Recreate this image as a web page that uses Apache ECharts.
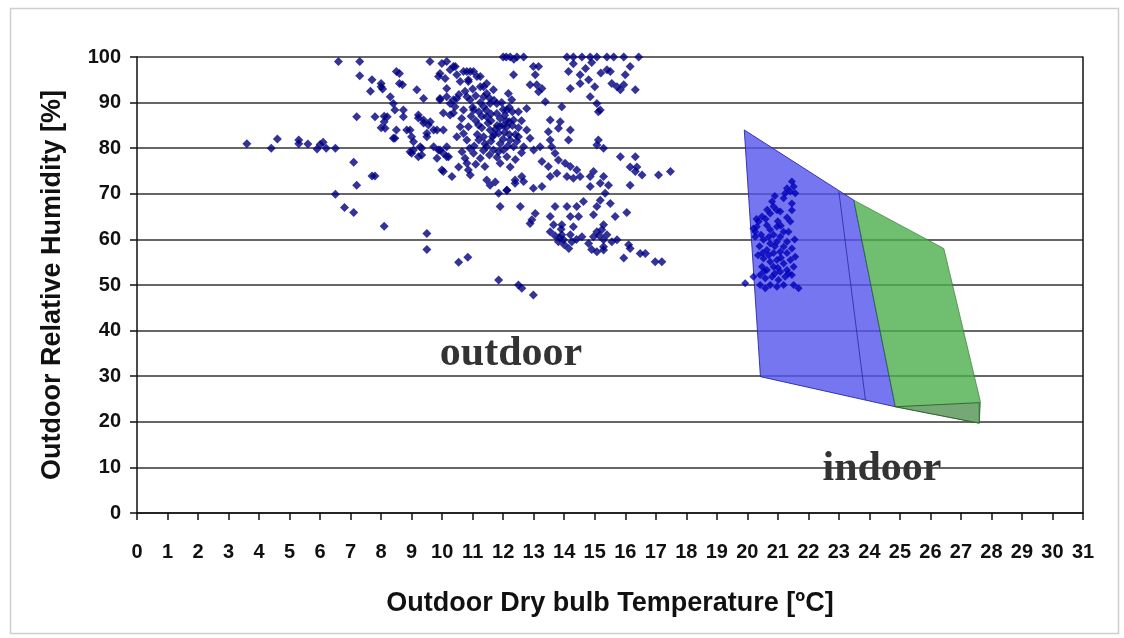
<!DOCTYPE html>
<html>
<head>
<meta charset="utf-8">
<script src="https://cdn.jsdelivr.net/npm/echarts@6/dist/echarts.min.js"></script>
<style>
html,body{margin:0;padding:0;background:#fff;}
#chart{width:1124px;height:638px;}
</style>
</head>
<body>
<div id="chart"></div>
<script>
// ---- data ----
const xTitle = 'Outdoor Dry bulb Temperature [ºC]';
const yTitle = 'Outdoor Relative Humidity [%]';
const labelOutdoor = 'outdoor';
const labelIndoor = 'indoor';

const outdoorPoints = [
[3.6,81],[4.4,80],[4.6,82],[5.3,81.8],[5.3,81],[5.6,80.9],[5.9,79.8],[6.0,80.8],[6.1,81.3],[6.2,80],[6.5,80],
[6.6,99],[7.3,99],[7.3,95.9],[7.1,76.9],[6.5,69.9],[6.8,67],[7.1,65.9],[7.2,71.9],[7.2,86.9],[7.7,95],[7.65,92.5],
[8.0,94.2],[8.05,93],[7.8,86.9],[7.7,73.9],[7.8,73.9],[8.1,62.9],[8.1,87],[8.0,84.5],
[9.6,99],[8.5,96.8],[8.6,96.4],[8.6,94.2],[8.7,93.9],[8.0,93.5],[8.3,91.3],[8.4,89.8],[8.45,88.4],[8.2,86.9],[8.1,85.8],
[8.13,84.4],[8.45,82.2],[8.4,82.2],[8.5,84],[8.73,86.9],[8.73,88.4],[8.84,84],[8.95,84],[9.0,82.5],[9.06,81.4],[9.06,79.6],
[9.0,78.9],[8.95,79.2],[9.22,78.1],[9.28,80.3],[9.33,78.5],[9.17,92.8],[9.39,90.9],[9.22,87.3],[9.22,86.6],[9.39,85.5],
[9.39,86.2],[9.55,85.1],[9.61,85.8],[9.72,84],[9.5,83.3],[9.5,82.5],[9.33,80],[9.72,80.3],[9.88,79.6],[10.04,78.9],
[10.21,78.1],[9.83,84],[9.99,98.6],[10.15,99],[10.26,97.2],[9.93,96.4],[10.1,95.3],[10.43,97.9],[9.88,95.7],[10.37,97.9],
[10.48,96.1],[10.7,96.8],[10.92,96.8],[10.86,95],[10.59,94.6],[11.14,95.7],[10.81,96.8],[11.03,96.8],[10.86,94.6],
[11.25,95.7],[10.15,93.1],[9.93,90.9],[10.26,89.8],[10.48,90.9],[10.04,87.7],[10.37,87.7],[10.7,88.4],[10.92,90.6],
[9.93,90.6],[10.15,91.3],[10.37,90.6],[10.42,89.1],[10.26,87.3],[10.59,84.7],[10.48,82.5],[10.04,84],[10.81,81.8],
[10.15,80.3],[9.93,79.6],[10.15,78.1],[9.83,77.8],[9.99,75.2],[10.32,73.8],[10.54,75.9],[10.75,77.8],[10.86,75.2],
[10.92,74.1],[10.04,74.9],[11.25,93.5],[11.46,94.2],[11.36,91.3],[11.68,92.8],[11.79,89.8],[11.36,93.5],[11.46,92],
[10.81,91.3],[11.03,88.4],[10.64,86.5],[10.86,84.7],[11.19,85.1],[11.36,89.1],[11.57,89.8],[11.46,86.9],[11.79,87.6],
[11.36,82.5],[11.46,80.3],[11.68,79.6],[11.57,84],[11.03,78.9],[11.25,77.8],[10.81,76.7],[11.85,83.3],[12.12,84.7],
[12.34,86.2],[12.23,81.8],[12.01,79.6],[12.12,78.1],[12.34,80.3],[11.9,76.7],[12.23,75.9],[11.46,73],[11.74,72.6],
[11.57,71.9],[11.85,70.1],[12.12,70.8],[12.39,72.3],[11.9,67.2],[11.85,51.1],[9.5,61.3],[9.5,57.8],[10.54,55],[10.84,56.1],
[11.1,86],[11.2,88],[11.3,84.5],[11.5,85.5],[11.6,87.5],[11.7,83],[11.8,85],[11.9,86.5],[12.0,88.5],[12.05,83.5],
[11.15,83],[11.4,81],[11.6,81.5],[11.9,81],[11.7,90.5],[11.95,90],[12.2,89],[11.05,80.5],[11.25,90],[10.95,87],
[11.55,78.5],[11.8,78],[12.4,83],[12.0,85],
[11.0,89],[11.1,91.5],[11.3,87],[11.45,88.3],[11.6,86],[11.75,84.2],[11.9,84.8],[12.05,87.2],[12.2,85.8],[11.2,81.8],
[11.35,79.5],[11.65,82.5],[11.85,79.2],[12.0,82],[12.15,80.5],[10.7,83.2],[10.9,80],[10.65,79.2],[11.1,76.5],[11.4,76],
[12.3,88],[12.5,82.5],[12.6,79],[12.4,77.5],[11.0,93],[11.55,91],[10.75,92.5],[10.55,91.8],
[12.0,100],[12.23,100],[12.45,100],[12.67,100],[12.1,100],[12.35,99.5],[14.09,100],[14.3,100],[14.58,100],[14.85,100],
[15.07,100],[12.34,96.1],[12.99,97.9],[13.16,97.9],[13.05,96.1],[12.88,93.9],[13.1,93.9],[13.27,93.1],[13.16,92.4],
[14.14,96.8],[14.2,93.1],[14.52,96.1],[14.52,94.2],[14.8,95],[14.85,91.3],[15.07,89.8],[15.12,88],[12.17,92],[12.28,90.6],
[13.38,90.2],[13.92,89.1],[12.5,88],[12.77,88.7],[12.12,88.4],[13.54,86.2],[13.87,85.8],[13.81,84.4],[14.2,84],[14.14,81.8],
[13.48,83.6],[13.54,81.8],[13.59,80.3],[13.7,78.9],[13.81,77.4],[13.21,80.3],[13.27,77.1],[13.48,76],[12.77,84],[12.88,82.2],
[12.67,80.3],[13.0,79.6],[14.03,76.7],[14.2,76],[14.41,75.2],[14.09,73.8],[14.3,73.4],[14.52,73.8],[14.85,73.8],[14.96,74.9],
[15.12,81.8],[15.07,80.7],[13.76,74.5],[13.54,73.8],[14.85,71.6],[15.18,72.3],[12.39,73],[12.61,73.8],[12.67,72.7],
[12.12,70.8],[12.99,71.2],[13.27,71.6],[12.56,67.2],[13.05,65.7],[12.94,64.3],[12.88,63.5],[13.7,67.2],[13.54,65],
[14.09,67.2],[14.41,67.2],[14.63,68.3],[13.65,63.2],[13.92,63.2],[14.2,65],[14.47,65],[14.3,62.8],[13.54,61.7],[13.92,61],
[14.2,61],[13.81,59.5],[13.98,59.9],[14.25,59.5],[14.58,60.6],[14.8,59.1],[15.07,67.2],[15.18,68.6],[14.96,65.4],
[15.07,61.7],[15.23,62.1],[14.96,60.6],[15.29,59.9],[15.07,57.3],[15.29,58.4],[12.5,50],[12.61,49.3],[12.99,47.8],
[12.1,86],[12.3,85],[12.5,84.5],[12.2,83],[12.45,81.5],[12.6,86],
[13.85,60.3],[14.0,58.8],[14.4,60],[14.15,58],[13.7,60.8],[15.15,60.8],[14.9,57.8],[13.9,62.2],
[14.3,98.5],[14.7,97.5],[14.9,98.8],[15.2,96.5],[15.0,93.5],
[15.4,100],[15.62,100],[15.95,100],[16.44,100],[16.16,97.9],[15.4,97.2],[15.51,96.8],[16.0,96.1],[15.56,94.2],[15.73,93.5],
[15.95,93.9],[15.84,92.8],[16.33,92.8],[15.18,88.4],[15.29,80],[15.84,78.1],[16.33,78.1],[16.16,75.9],[16.38,75.9],
[16.33,74.9],[16.55,74.1],[17.09,74.1],[17.48,74.9],[15.29,73.8],[15.45,71.9],[16.16,71.9],[15.34,70.1],[15.51,67.9],
[16.05,65.9],[15.67,65],[15.29,63.2],[15.4,61],[15.56,59.5],[15.73,59.9],[16.11,58.8],[16.16,58],[16.49,56.9],[16.66,56.9],
[15.95,55.9],[16.98,55.1],[17.2,55.1],[15.29,57.7]
];

const indoorPoints = [
[21.46,72.7],[21.52,71.6],[21.41,70.5],[21.3,71.2],[21.57,70.1],[21.24,70.1],[21.19,69],[21.46,67.9],[21.46,66.4],
[21.41,63.9],[21.35,61.7],[20.81,68.3],[20.86,67.2],[20.97,66.4],[20.75,65.7],[21.08,66.1],[20.48,65],[20.37,63.9],
[20.31,62.8],[20.26,61.7],[20.2,62.4],[20.64,63.1],[20.75,62.1],[20.97,62.8],[20.86,61],[21.08,60.6],[21.19,61.7],
[20.53,59.9],[20.75,59.1],[20.97,59.5],[21.19,58.4],[20.64,57.7],[20.86,57],[21.08,57.3],[21.3,57],[21.46,58],
[20.53,55.8],[20.75,55.1],[20.97,55.5],[21.19,54.7],[21.41,55.5],[21.57,56.2],[20.48,54],[20.64,53.3],[20.86,54],
[21.08,52.9],[21.3,53.3],[21.52,54],[20.42,52.2],[20.59,51.5],[20.81,51.8],[21.02,51.1],[21.24,51.8],[21.46,52.2],
[20.42,50],[20.59,49.3],[20.75,50],[20.97,49.6],[21.19,50],[19.93,50.4],[20.2,51.8],[21.52,50],[21.68,49.3],
[20.26,60.6],[20.4,58.5],[20.35,56.5],[20.6,64.5],[21.0,64],[21.3,64.8],[21.55,60],
[20.3,64.5],[20.45,61],[20.7,60.5],[20.9,58.5],[21.1,56],[20.7,56.5],[20.55,53],[20.9,52.5],[21.35,52.5],
[20.65,66.5],[20.9,69.5],[21.1,63],[21.3,59.5],[20.5,57],[21.0,53.8]
];

const bluePolygon = [[19.9,84],[23.49,68.6],[24.85,23.3],[20.43,29.9]];
const greenPolygon = [[23.49,68.6],[26.44,58],[27.64,24.4],[27.6,19.7],[24.85,23.3]];
const greyStrip = [[24.85,23.3],[27.6,24.2],[27.6,19.7]];
const dividerLine = [[23.0,70.5],[23.87,24.8]];

// ---- chart ----
const chart = echarts.init(document.getElementById('chart'));
const labelFont = {fontFamily:'Liberation Sans, Arial, sans-serif', fontWeight:'bold', fontSize:20, color:'#111'};

function polygonSeries(points, fill, stroke, z) {
  return {
    type:'custom', coordinateSystem:'cartesian2d', z:z, silent:true,
    data:[[points[0][0], points[0][1]]],
    renderItem:function(params, api){
      return {type:'polygon', shape:{points:points.map(p=>api.coord(p))},
        style:{fill:fill, stroke:stroke, lineWidth:1}};
    }
  };
}

const option = {
  backgroundColor:'#fff',
  animation:false,
  grid:{left:137, right:41, top:57, bottom:125},
  xAxis:{
    type:'value', min:0, max:31, interval:1,
    name:xTitle, nameLocation:'middle', nameGap:77,
    nameTextStyle:{fontFamily:'Liberation Sans, Arial, sans-serif', fontWeight:'bold', fontSize:27, color:'#111'},
    axisLine:{show:true, onZero:false, lineStyle:{color:'#111', width:1.5}},
    axisTick:{show:true, length:7, lineStyle:{color:'#111', width:1.5}},
    axisLabel:Object.assign({margin:29}, labelFont),
    splitLine:{show:false}
  },
  yAxis:[{
    type:'value', min:0, max:100, interval:10,
    name:yTitle, nameLocation:'middle', nameGap:71,
    nameTextStyle:{fontFamily:'Liberation Sans, Arial, sans-serif', fontWeight:'bold', fontSize:27, color:'#111'},
    axisLine:{show:true, lineStyle:{color:'#111', width:1.5}},
    axisTick:{show:true, length:7, lineStyle:{color:'#111', width:1.5}},
    axisLabel:Object.assign({margin:16}, labelFont),
    splitLine:{show:true, lineStyle:{color:'#333', width:1.6}}
  },{
    type:'value', min:0, max:100, interval:10, position:'right',
    axisLine:{show:true, lineStyle:{color:'#111', width:1.5}},
    axisTick:{show:false}, axisLabel:{show:false}, splitLine:{show:false}
  }],
  graphic:[
    {type:'rect', left:8, top:6, shape:{width:1108, height:625}, style:{fill:'none', stroke:'#cfcfcf', lineWidth:1.5}, z:-10},
    {type:'text', x:511, y:375, style:{text:labelOutdoor, font:'bold 42px "Liberation Serif", "Times New Roman", serif', fill:'#333', textAlign:'center', textVerticalAlign:'bottom'}, z:100},
    {type:'text', x:882, y:490, style:{text:labelIndoor, font:'bold 42px "Liberation Serif", "Times New Roman", serif', fill:'#333', textAlign:'center', textVerticalAlign:'bottom'}, z:100}
  ],
  series:[
    polygonSeries(bluePolygon, 'rgba(84,84,236,0.8)', 'rgba(40,40,170,0.9)', 1),
    polygonSeries(greenPolygon, 'rgba(76,174,76,0.8)', 'rgba(40,110,40,0.6)', 1),
    polygonSeries(greyStrip, 'rgba(120,160,120,0.75)', 'rgba(30,90,30,0.8)', 2),
    {type:'line', data:dividerLine, symbol:'none', z:3, silent:true,
     lineStyle:{color:'rgba(40,40,160,0.8)', width:1}},
    {type:'scatter', data:outdoorPoints, symbol:'diamond', symbolSize:9, z:5,
     itemStyle:{color:'#000080'}},
    {type:'scatter', data:indoorPoints, symbol:'diamond', symbolSize:8, z:5,
     itemStyle:{color:'#0000b8'}}
  ]
};
chart.setOption(option);
</script>
</body>
</html>
